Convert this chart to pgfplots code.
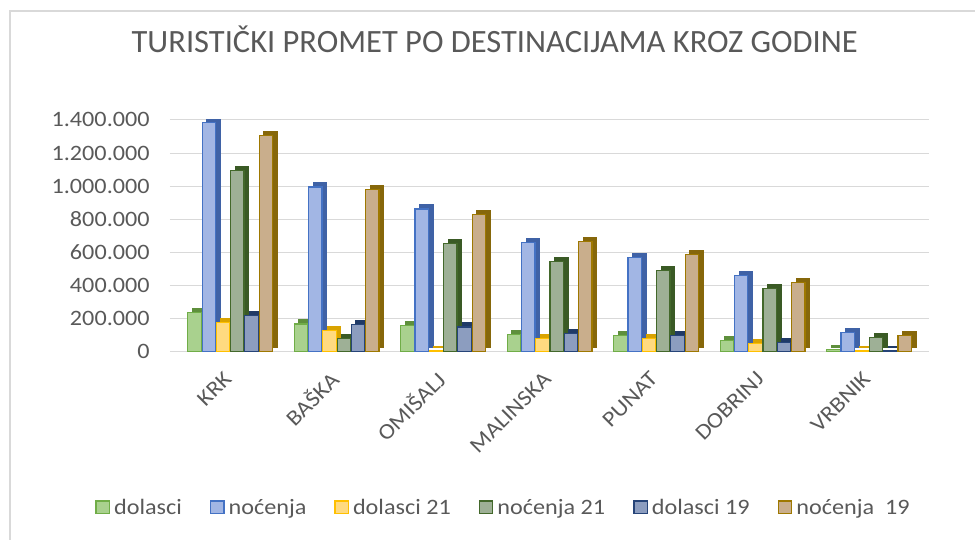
\documentclass[border=0pt]{standalone}
\usepackage{fontspec}
\setmainfont{Carlito}[FakeStretch=1.1]
\newfontfamily\titlefont{Carlito}
\usepackage{pgfplots}
\usepackage{pgfplotstable}
\pgfplotsset{compat=1.18}

\definecolor{txt}{HTML}{595959}
\definecolor{gridc}{HTML}{D9D9D9}
\definecolor{aF}{HTML}{A9D18E}\definecolor{aE}{HTML}{70AD47}\definecolor{aS}{HTML}{5E8F3C}
\definecolor{bF}{HTML}{A2B6E4}\definecolor{bE}{HTML}{4472C4}\definecolor{bS}{HTML}{3F62A6}
\definecolor{cF}{HTML}{FFDA80}\definecolor{cE}{HTML}{FFC000}\definecolor{cS}{HTML}{D9A300}
\definecolor{dF}{HTML}{9EB096}\definecolor{dE}{HTML}{43682B}\definecolor{dS}{HTML}{3A5A25}
\definecolor{eF}{HTML}{8C9DBF}\definecolor{eE}{HTML}{264478}\definecolor{eS}{HTML}{203A66}
\definecolor{fF}{HTML}{C9AE8C}\definecolor{fE}{HTML}{9E7800}\definecolor{fS}{HTML}{86670A}

\pgfplotstableread{
idx dol noc dol21 noc21 dol19 noc19
0 235000 1385000 175000 1095000 218000 1305000
1 168000 995000 130000 82000 165000 980000
2 160000 862000 5000 655000 150000 830000
3 103000 662000 80000 547000 108000 667000
4 100000 570000 82000 492000 100000 587000
5 68000 462000 52000 380000 58000 417000
6 12000 116000 8000 88000 10000 100000
}\data

\pgfplotsset{
  myleg/.style={legend image code/.code={\draw[##1,line width=1pt] (0pt,-4.6pt) rectangle (10pt,5pt);}},
  front/.style n args={3}{ybar, bar width=10pt, bar shift=#1, fill=#2, draw=#3, line width=0.9pt, myleg},
  back/.style n args={2}{ybar, bar width=10pt, bar shift=#1, fill=#2, draw=#2, line width=0.9pt, xshift=3.5pt, yshift=3pt, forget plot},
}

\begin{document}
\begin{tikzpicture}
\path (0,0) rectangle (732pt,405pt);
\draw[gridc, line width=1pt] (7.5pt,0pt) -- (7.5pt,396.75pt) -- (732pt,396.75pt);
\node[text=txt, font=\titlefont\fontsize{24.4}{28}\selectfont, anchor=base] at (371.25pt,365.25pt) {TURISTIČKI PROMET PO DESTINACIJAMA KROZ GODINE};
\begin{axis}[
  at={(127.5pt,141pt)}, anchor=south west,
  scale only axis, width=570pt, height=174pt,
  xmin=-0.566, xmax=6.566, ymin=0, ymax=1400000,
  axis line style={draw=none}, tick style={draw=none},
  ymajorgrids, grid style={gridc, line width=0.75pt},
  scaled y ticks=false,
  ytick={0,200000,400000,600000,800000,1000000,1200000,1400000},
  yticklabels={0,200.000,400.000,600.000,800.000,1.000.000,1.200.000,1.400.000},
  yticklabel style={text=txt, font=\fontsize{16.5}{19}\selectfont, inner sep=0pt, xshift=-15pt},
  xtick={0,...,6},
  xticklabels={KRK,BAŠKA,OMIŠALJ,MALINSKA,PUNAT,DOBRINJ,VRBNIK},
  xticklabel style={text=txt, font=\fontsize{16.5}{19}\selectfont, inner sep=1pt, xshift=-1pt, yshift=-17pt, rotate=45, anchor=east},
  legend columns=6,
  legend style={draw=none, fill=none, at={(0.438,-0.672)}, anchor=center, font=\fontsize{16.5}{19}\selectfont, text=txt,
    inner sep=0pt, nodes={inner sep=0pt},
    /tikz/every odd column/.append style={column sep=3pt},
    /tikz/every even column/.append style={column sep=21pt}},
  legend cell align=left,
]
\addplot[back={-26.75pt}{aS}] table[x=idx,y=dol]{\data};
\addplot[front={-26.75pt}{aF}{aE}] table[x=idx,y=dol]{\data};
\addlegendentry{dolasci}
\addplot[back={-16.05pt}{bS}] table[x=idx,y=noc]{\data};
\addplot[front={-16.05pt}{bF}{bE}] table[x=idx,y=noc]{\data};
\addlegendentry{noćenja}
\addplot[back={-5.35pt}{cS}] table[x=idx,y=dol21]{\data};
\addplot[front={-5.35pt}{cF}{cE}] table[x=idx,y=dol21]{\data};
\addlegendentry{dolasci 21}
\addplot[back={5.35pt}{dS}] table[x=idx,y=noc21]{\data};
\addplot[front={5.35pt}{dF}{dE}] table[x=idx,y=noc21]{\data};
\addlegendentry{noćenja 21}
\addplot[back={16.05pt}{eS}] table[x=idx,y=dol19]{\data};
\addplot[front={16.05pt}{eF}{eE}] table[x=idx,y=dol19]{\data};
\addlegendentry{dolasci 19}
\addplot[back={26.75pt}{fS}] table[x=idx,y=noc19]{\data};
\addplot[front={26.75pt}{fF}{fE}] table[x=idx,y=noc19]{\data};
\addlegendentry{noćenja\ \ 19}
\end{axis}
\end{tikzpicture}
\end{document}
